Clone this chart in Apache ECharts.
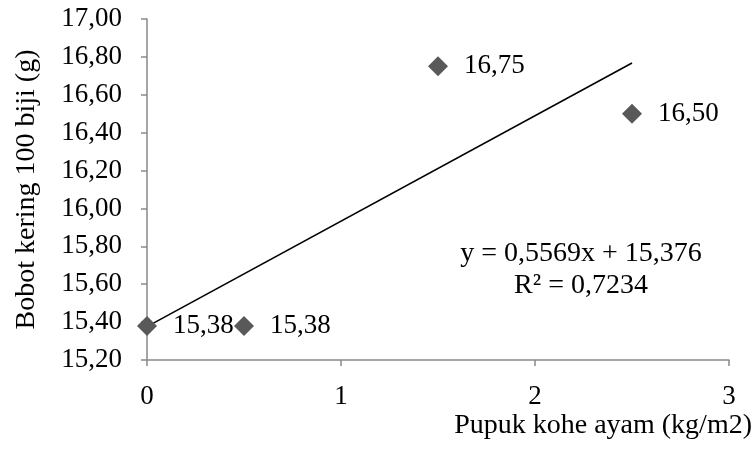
<!DOCTYPE html>
<html>
<head>
<meta charset="utf-8">
<script src="https://cdn.jsdelivr.net/npm/echarts@6/dist/echarts.min.js"></script>
<style>
  html, body { margin: 0; padding: 0; background: #fff; }
  #chart { width: 754px; height: 450px; }
</style>
</head>
<body>
<div id="chart"></div>
<script>
// pupuk kohe ayam (kg/m2) vs bobot kering 100 biji (g)
const doses = [0, 0.5, 1.5, 2.5]
const weights = [15.38, 15.38, 16.75, 16.50]
// linear trend line end points, y = 0,5569x + 15,376
const trendX = [0, 2.5]
const trendY = [15.376, 16.768]
const eqLines = ['y = 0,5569x + 15,376', 'R² = 0,7234']
const xTitle = 'Pupuk kohe ayam (kg/m2)'

const font = '"Liberation Serif", "Times New Roman", serif'
const fs = 27      // ticks, point labels
const fsBig = 28   // titles, equation
const axisGray = '#898989'
const fmt = (v, d) => v.toFixed(d).replace('.', ',')

const chart = echarts.init(document.getElementById('chart'))
chart.setOption({
  animation: false,
  textStyle: { fontFamily: font },
  grid: { left: 147, right: 25, top: 19, bottom: 90, outerBoundsMode: 'none', containLabel: false },
  xAxis: {
    type: 'value',
    min: 0, max: 3, interval: 1,
    axisLine: { lineStyle: { color: axisGray, width: 1.5 } },
    axisTick: { show: true, length: 6, lineStyle: { color: axisGray, width: 1.5 } },
    axisLabel: { fontFamily: font, fontSize: fs, color: '#000', margin: 23 },
    splitLine: { show: false }
  },
  yAxis: {
    type: 'value',
    min: 15.2, max: 17.0, interval: 0.2,
    name: 'Bobot kering 100 biji (g)',
    nameLocation: 'middle',
    nameGap: 106,
    nameTextStyle: { fontFamily: font, fontSize: fsBig, color: '#000' },
    axisLine: { show: true, lineStyle: { color: axisGray, width: 1.5 } },
    axisTick: { show: true, length: 6, lineStyle: { color: axisGray, width: 1.5 } },
    axisLabel: { fontFamily: font, fontSize: fs, color: '#000', margin: 25, formatter: (v) => fmt(v, 2) },
    splitLine: { show: false }
  },
  graphic: [
    ...eqLines.map((t, i) => ({
      type: 'text',
      x: 581, y: 254 + i * 32,
      style: { text: t, font: fsBig + 'px ' + font, fill: '#000', textAlign: 'center', textVerticalAlign: 'middle' }
    })),
    {
      type: 'text',
      x: 752, y: 426,
      style: { text: xTitle, font: fsBig + 'px ' + font, fill: '#000', textAlign: 'right', textVerticalAlign: 'middle' }
    }
  ],
  series: [
    {
      type: 'line',
      data: trendX.map((x, i) => [x, trendY[i]]),
      symbol: 'none',
      lineStyle: { color: '#000', width: 1.6 },
      z: 2
    },
    {
      type: 'scatter',
      data: doses.map((x, i) => [x, weights[i]]),
      symbol: 'diamond',
      symbolSize: 20,
      itemStyle: { color: '#595959', opacity: 1 },
      label: {
        show: true,
        position: 'right',
        distance: 16,
        fontFamily: font,
        fontSize: fs,
        color: '#000',
        formatter: (p) => fmt(p.value[1], 2)
      },
      z: 3
    }
  ]
})
</script>
</body>
</html>
